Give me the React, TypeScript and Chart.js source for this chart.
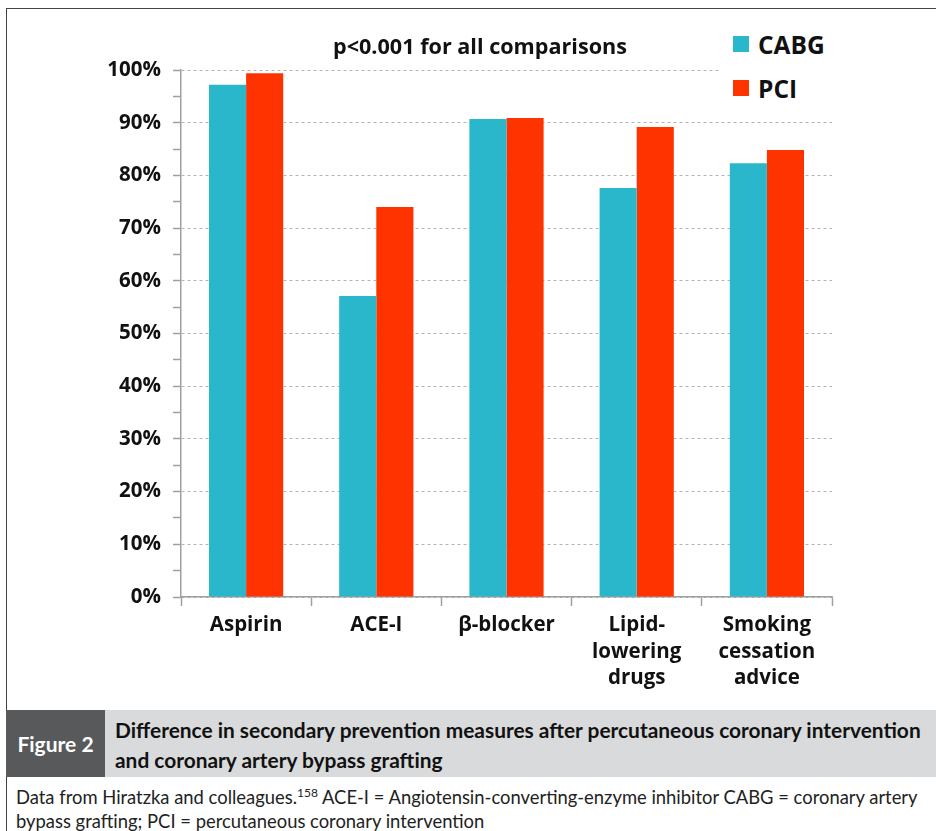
import React, { useEffect, useRef } from "react";
import { Chart, registerables } from "chart.js";

Chart.register(...registerables);

const categories: (string | string[])[] = [
  "Aspirin",
  "ACE-I",
  "β-blocker",
  ["Lipid-", "lowering", "drugs"],
  ["Smoking", "cessation", "advice"],
];
const cabgValues = [97.2, 57.1, 90.7, 77.6, 82.3];
const pciValues = [99.4, 74.0, 90.9, 89.2, 84.8];
const seriesNames = ["CABG", "PCI"];
const seriesColors = ["#2bb7cb", "#ff3300"];
const yTickValues = [0, 10, 20, 30, 40, 50, 60, 70, 80, 90, 100];
const chartTitle = "p<0.001 for all comparisons";
const figureLabel = "Figure 2";
const captionLines = [
  "Difference in secondary prevention measures after percutaneous coronary intervention",
  "and coronary artery bypass grafting",
];
const footnoteLines = [
  "Data from Hiratzka and colleagues.",
  "158",
  " ACE-I = Angiotensin-converting-enzyme inhibitor CABG = coronary artery",
  "bypass grafting; PCI = percutaneous coronary intervention",
];

const CHART_FONT = "'Open Sans', 'DejaVu Sans', sans-serif";
const CAPTION_FONT = "Lato, 'Open Sans', sans-serif";

export default function App() {
  const canvasRef = useRef<HTMLCanvasElement | null>(null);

  useEffect(() => {
    const canvas = canvasRef.current;
    if (!canvas) return;
    const chart = new Chart(canvas, {
      type: "bar",
      data: {
        labels: categories,
        datasets: [
          {
            label: seriesNames[0],
            data: cabgValues,
            backgroundColor: seriesColors[0],
            categoryPercentage: 0.57,
            barPercentage: 1,
          },
          {
            label: seriesNames[1],
            data: pciValues,
            backgroundColor: seriesColors[1],
            categoryPercentage: 0.57,
            barPercentage: 1,
          },
        ],
      },
      options: {
        responsive: false,
        animation: false,
        devicePixelRatio: 1,
        layout: { padding: { top: 70, right: 104, left: 0, bottom: 0 } },
        plugins: {
          legend: { display: false },
          title: { display: false },
          tooltip: { enabled: false },
        },
        scales: {
          x: {
            afterFit: (scale: any) => {
              scale.height = 103;
            },
            grid: {
              offset: true,
              drawOnChartArea: false,
              drawTicks: true,
              tickLength: 9,
              tickColor: "#a0a0a0",
              tickWidth: 1.5,
            },
            border: { display: true, color: "#a0a0a0", width: 1.5 },
            ticks: {
              color: "#111",
              padding: 6,
              maxRotation: 0,
              autoSkip: false,
              font: { family: CHART_FONT, size: 20.5, weight: "bold", lineHeight: 1.3 },
            },
          },
          y: {
            min: 0,
            max: 100,
            afterFit: (scale: any) => {
              scale.width = 181;
            },
            afterBuildTicks: (scale: any) => {
              const t: { value: number }[] = [];
              for (let i = 0; i < yTickValues.length; i++) {
                t.push({ value: yTickValues[i] });
                if (i < yTickValues.length - 1) {
                  t.push({ value: (yTickValues[i] + yTickValues[i + 1]) / 2 });
                }
              }
              scale.ticks = t;
            },
            grid: {
              color: (ctx: any) =>
                ctx.tick && yTickValues.includes(ctx.tick.value) ? "#b5b5b5" : "rgba(0,0,0,0)",
              lineWidth: 1,
              drawTicks: true,
              tickLength: 8,
              tickColor: "#a0a0a0",
              tickWidth: 1.5,
            },
            border: { display: true, color: "#a0a0a0", width: 1.5, dash: [3, 3] },
            ticks: {
              autoSkip: false,
              color: "#111",
              padding: 12,
              callback: (v: any) => (yTickValues.includes(Number(v)) ? `${v}%` : ""),
              font: { family: CHART_FONT, size: 20.5, weight: "bold" },
            },
          },
        },
      },
    } as any);
    return () => chart.destroy();
  }, []);

  return (
    <div
      style={{
        position: "absolute",
        left: 0,
        top: 0,
        width: 936,
        height: 831,
        background: "#fff",
        overflow: "hidden",
      }}
    >
      <div
        style={{
          position: "absolute",
          left: 6,
          top: 8,
          width: 940,
          height: 840,
          borderTop: "1.5px solid #444",
          borderLeft: "1.5px solid #444",
          boxSizing: "border-box",
        }}
      />
      <canvas
        ref={canvasRef}
        width={936}
        height={700}
        style={{ position: "absolute", left: 0, top: 0, width: 936, height: 700 }}
      />
      <div
        style={{
          position: "absolute",
          left: 333,
          top: 31,
          fontFamily: CHART_FONT,
          fontWeight: 700,
          fontSize: 21.6,
          lineHeight: "30px",
          color: "#111",
          whiteSpace: "nowrap",
        }}
      >
        {chartTitle}
      </div>
      <div
        style={{
          position: "absolute",
          left: 719,
          top: 22,
          width: 120,
          height: 86,
          background: "#fff",
        }}
      >
        {seriesNames.map((name, i) => (
          <div
            key={name}
            style={{
              position: "absolute",
              left: 14,
              top: 6 + i * 44,
              height: 32,
              display: "flex",
              alignItems: "center",
              fontFamily: CHART_FONT,
              fontWeight: 700,
              fontSize: 24.5,
              color: "#111",
              whiteSpace: "nowrap",
            }}
          >
            <span
              style={{
                display: "inline-block",
                width: 16,
                height: 16,
                background: seriesColors[i],
                marginRight: 9,
              }}
            />
            {name}
          </div>
        ))}
      </div>
      <div
        style={{
          position: "absolute",
          left: 6,
          top: 710,
          width: 99,
          height: 67,
          background: "#58595b",
          color: "#fff",
          fontFamily: CAPTION_FONT,
          fontWeight: 700,
          fontSize: 21,
          display: "flex",
          alignItems: "center",
          justifyContent: "center",
          whiteSpace: "nowrap",
        }}
      >
        {figureLabel}
      </div>
      <div
        style={{
          position: "absolute",
          left: 105,
          top: 710,
          width: 831,
          height: 67,
          background: "#d9dadb",
        }}
      >
        {captionLines.map((line, i) => (
          <div
            key={i}
            style={{
              position: "absolute",
              left: 10,
              top: 5 + i * 30,
              lineHeight: "30px",
              fontFamily: CAPTION_FONT,
              fontWeight: 700,
              fontSize: 20.9,
              color: "#111",
              whiteSpace: "nowrap",
            }}
          >
            {line}
          </div>
        ))}
      </div>
      <div
        style={{
          position: "absolute",
          left: 16,
          top: 785,
          lineHeight: "24px",
          fontFamily: CAPTION_FONT,
          fontSize: 18.4,
          color: "#222",
          whiteSpace: "nowrap",
        }}
      >
        <div>
          {footnoteLines[0]}
          <sup style={{ fontSize: 12, lineHeight: 0, verticalAlign: "7px" }}>{footnoteLines[1]}</sup>
          {footnoteLines[2]}
        </div>
        <div>{footnoteLines[3]}</div>
      </div>
    </div>
  );
}
